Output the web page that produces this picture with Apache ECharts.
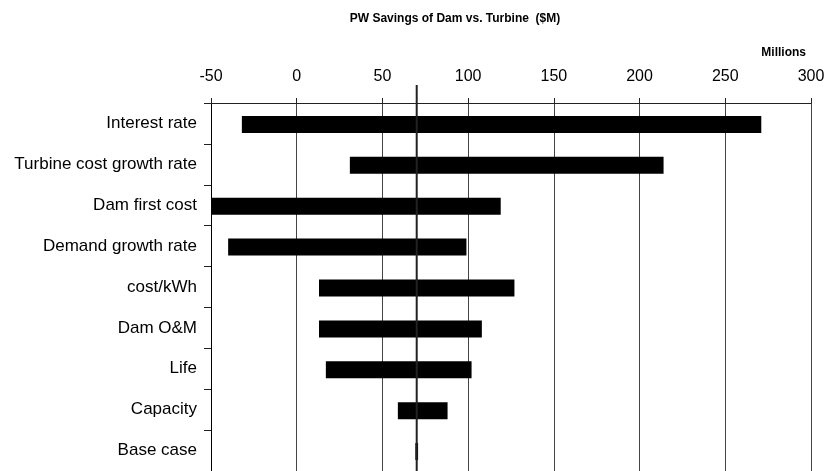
<!DOCTYPE html>
<html><head><meta charset="utf-8">
<script src="https://cdn.jsdelivr.net/npm/echarts@6/dist/echarts.min.js"></script>
<style>html,body{margin:0;padding:0;background:#fff}#c{width:828px;height:471px}</style>
</head><body><div id="c"></div>
<script>
var categories = ['Interest rate','Turbine cost growth rate','Dam first cost','Demand growth rate','cost/kWh','Dam O&M','Life','Capacity','Base case'];
var lowValues  = [-32, 31, -50, -40, 13, 13, 17, 59, 69.2];
var highValues = [271, 214, 119, 99, 127, 108, 102, 88, 70.8];
var baseCase = 70;
var xTicks = {min: -50, max: 300, interval: 50};

var FONT = 'Liberation Sans';
var chart = echarts.init(document.getElementById('c'));
var barData = categories.map(function(c, i){ return [i, lowValues[i], highValues[i]]; });

chart.setOption({
  animation: false,
  textStyle: {fontFamily: FONT},
  title: [
    {text: 'PW Savings of Dam vs. Turbine  ($M)', left: 450, textAlign: 'center', top: 8,
     textStyle: {fontFamily: FONT, fontSize: 12, fontWeight: 'bold', color: '#000'}},
    {text: 'Millions', right: 17, top: 42,
     textStyle: {fontFamily: FONT, fontSize: 12, fontWeight: 'bold', color: '#000'}}
  ],
  grid: {left: 211, right: 17, top: 103, height: 370, containLabel: false},
  xAxis: {
    type: 'value', position: 'top', min: xTicks.min, max: xTicks.max, interval: xTicks.interval,
    axisLine: {show: true, onZero: false, lineStyle: {color: '#222', width: 1}},
    axisTick: {show: true, length: 5, lineStyle: {color: '#222'}},
    axisLabel: {fontFamily: FONT, fontSize: 16, color: '#000', margin: 18},
    splitLine: {show: true, lineStyle: {color: '#444', width: 1}}
  },
  yAxis: {
    type: 'category', inverse: true, data: categories,
    axisLine: {show: true, onZero: false, lineStyle: {color: '#000', width: 1}},
    axisTick: {show: true, length: 7, lineStyle: {color: '#222'}},
    axisLabel: {fontFamily: FONT, fontSize: 17, color: '#000', margin: 14},
    splitLine: {show: false}
  },
  series: [
    {
      type: 'custom', data: barData, clip: true,
      encode: {x: [1, 2], y: 0},
      renderItem: function(params, api){
        var cat = api.value(0);
        var p1 = api.coord([api.value(1), cat]);
        var p2 = api.coord([api.value(2), cat]);
        var h = 17;
        var cs = params.coordSys;
        var x1 = Math.max(p1[0], cs.x), x2 = Math.min(p2[0], cs.x + cs.width);
        return {type: 'rect', shape: {x: x1, y: p1[1] - h/2 + 1, width: x2 - x1, height: h},
                style: {fill: '#000'}};
      }
    },
    {
      type: 'custom', data: [[baseCase, 0]], clip: false, z: 5,
      encode: {x: 0, y: 1},
      renderItem: function(params, api){
        var cs = params.coordSys;
        var x = api.coord([api.value(0), 0])[0];
        return {type: 'line', shape: {x1: x, y1: cs.y - 18, x2: x, y2: cs.y + cs.height},
                style: {stroke: '#222', lineWidth: 2}};
      }
    }
  ]
});
</script></body></html>
